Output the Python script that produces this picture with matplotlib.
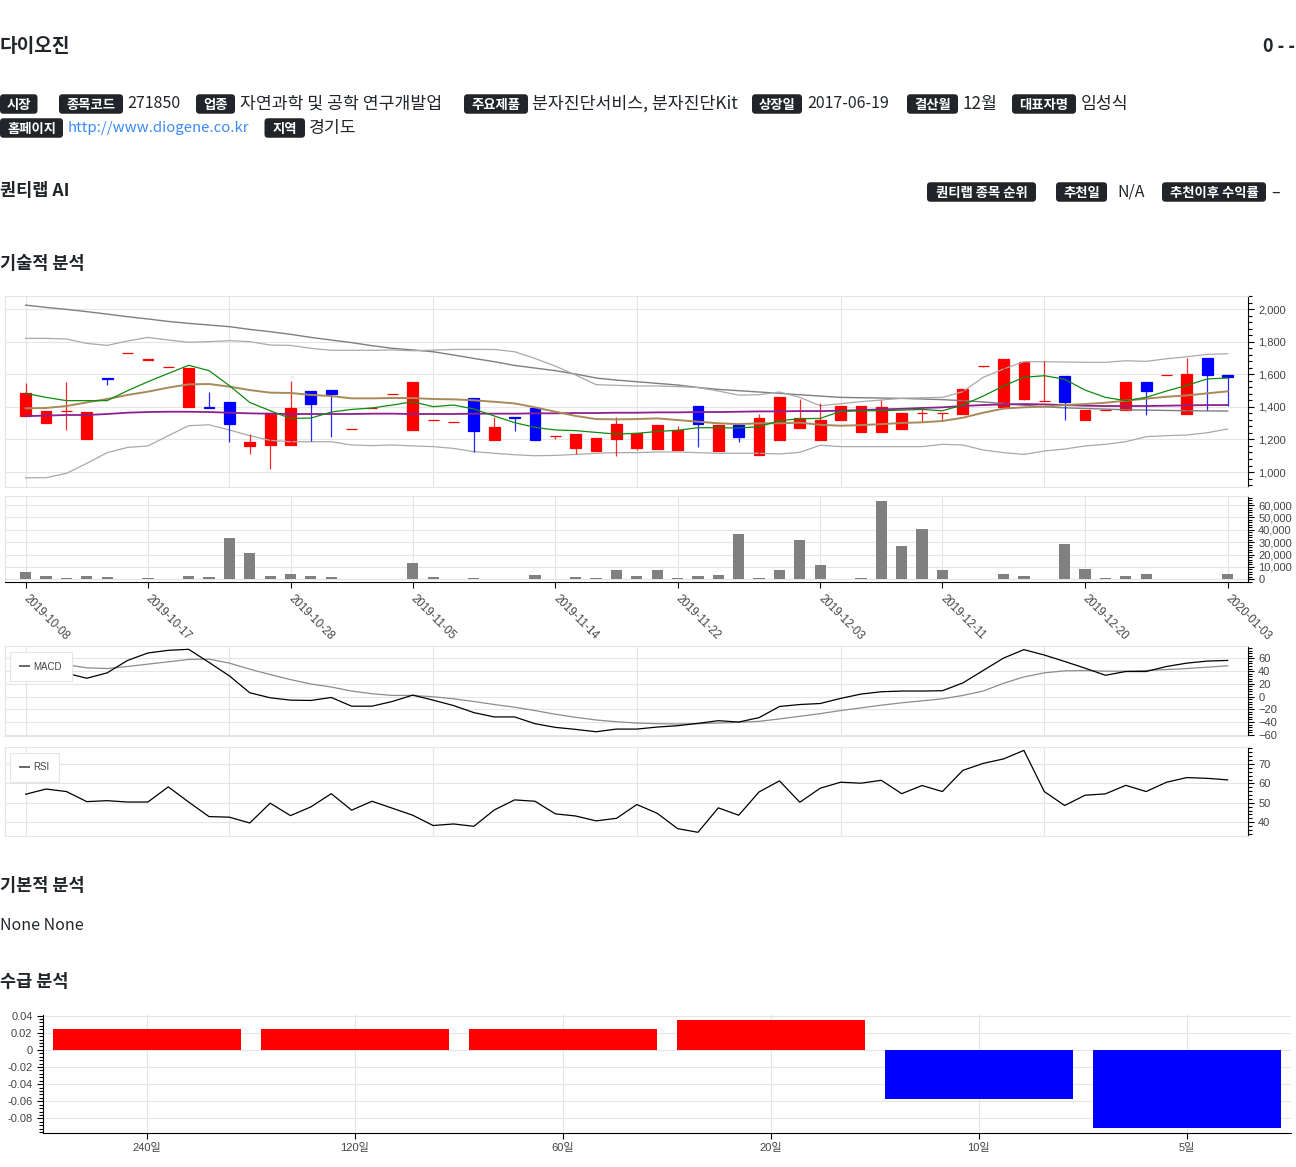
import numpy as np
import matplotlib
matplotlib.use("Agg")
import matplotlib.pyplot as plt
from matplotlib.patches import FancyBboxPatch
from matplotlib.lines import Line2D
from matplotlib.ticker import MultipleLocator, FuncFormatter

g_width=1296
g_height=1167
g_kor_font=["Noto Sans CJK KR","DejaVu Sans"]
g_grid_color="#e5e5e5"
g_tick_color="#444444"
g_text_color="#212529"

plt.rcParams["font.family"]=["Liberation Sans","Noto Sans CJK KR","DejaVu Sans"]

# ---- values ----
dates=["2019-10-08","2019-10-10","2019-10-11","2019-10-14","2019-10-15","2019-10-16","2019-10-17","2019-10-18",
       "2019-10-21","2019-10-22","2019-10-23","2019-10-24","2019-10-25","2019-10-28","2019-10-29","2019-10-30",
       "2019-10-31","2019-11-01","2019-11-04","2019-11-05","2019-11-06","2019-11-07","2019-11-08","2019-11-11",
       "2019-11-12","2019-11-13","2019-11-14","2019-11-15","2019-11-18","2019-11-19","2019-11-20","2019-11-21",
       "2019-11-22","2019-11-25","2019-11-26","2019-11-27","2019-11-28","2019-11-29","2019-12-02","2019-12-03",
       "2019-12-04","2019-12-05","2019-12-06","2019-12-09","2019-12-10","2019-12-11","2019-12-12","2019-12-13",
       "2019-12-16","2019-12-17","2019-12-18","2019-12-19","2019-12-20","2019-12-23","2019-12-24","2019-12-26",
       "2019-12-27","2019-12-30","2020-01-02","2020-01-03"]
date_ticks=["2019-10-08","2019-10-17","2019-10-28","2019-11-05","2019-11-14","2019-11-22",
            "2019-12-03","2019-12-11","2019-12-20","2020-01-03"]

open_p=[1343,1299,1376,1205,1578,1730,1688,1644,1401,1399,
        1431,1160,1168,1168,1497,1503,1262,1392,1481,1258,
        1321,1305,1452,1198,1337,1393,1221,1149,1131,1205,
        1149,1141,1133,1403,1129,1288,1106,1198,1270,1198,
        1317,1247,1247,1266,1360,1360,1354,1650,1401,1448,
        1436,1591,1317,1382,1382,1552,1597,1358,1701,1597]
high_p=[1544,1376,1550,1370,1578,1730,1694,1644,1638,1489,
        1431,1231,1360,1560,1497,1503,1262,1392,1481,1552,
        1321,1305,1452,1339,1337,1393,1221,1233,1209,1339,
        1237,1288,1282,1403,1288,1288,1356,1462,1450,1421,
        1403,1403,1442,1360,1391,1360,1511,1650,1693,1677,
        1683,1591,1382,1382,1552,1552,1597,1699,1701,1597]
low_p=[1343,1299,1258,1205,1534,1730,1688,1644,1401,1395,
       1186,1108,1016,1168,1190,1213,1262,1392,1481,1258,
       1321,1305,1125,1198,1251,1198,1200,1108,1131,1100,
       1135,1141,1133,1151,1129,1186,1106,1198,1270,1198,
       1317,1247,1247,1266,1309,1313,1354,1642,1401,1442,
       1436,1319,1317,1382,1382,1352,1597,1358,1382,1403]
close_p=[1483,1376,1376,1370,1572,1730,1694,1644,1638,1395,
         1294,1184,1360,1393,1419,1481,1262,1392,1481,1552,
         1321,1305,1250,1278,1329,1198,1221,1233,1209,1292,
         1237,1288,1256,1294,1288,1215,1329,1462,1333,1319,
         1403,1403,1397,1360,1360,1360,1511,1650,1693,1677,
         1436,1430,1382,1382,1552,1499,1597,1601,1593,1585]

ma5=[1483,1458,1438,1438,1438,1499,1554,1605,1655,1622,
     1530,1427,1376,1329,1331,1368,1384,1393,1411,1431,
     1401,1411,1387,1344,1303,1274,1258,1254,1243,1233,
     1237,1249,1256,1272,1272,1270,1278,1315,1327,1329,
     1372,1376,1376,1380,1384,1376,1411,1466,1528,1581,
     1591,1569,1503,1458,1438,1458,1497,1532,1571,1577]
ma20=[1391,1393,1405,1427,1448,1473,1493,1518,1538,1540,
      1524,1503,1487,1485,1473,1466,1452,1452,1454,1454,
      1448,1446,1440,1431,1421,1397,1370,1344,1325,1323,
      1325,1329,1319,1309,1299,1294,1299,1299,1303,1290,
      1284,1288,1294,1301,1305,1313,1333,1364,1389,1397,
      1401,1411,1417,1425,1438,1450,1462,1470,1483,1495]
ma60=[1343,1346,1350,1350,1356,1364,1368,1370,1370,1368,
      1364,1360,1358,1356,1356,1356,1356,1358,1358,1356,
      1356,1356,1358,1358,1358,1360,1360,1362,1362,1364,
      1364,1366,1366,1368,1368,1370,1372,1372,1374,1374,
      1376,1380,1384,1388,1393,1397,1405,1411,1415,1417,
      1415,1411,1407,1405,1405,1405,1407,1409,1411,1411]
ma_long=[2024,2010,1998,1984,1969,1953,1939,1924,1912,1902,
         1892,1875,1861,1845,1826,1810,1794,1775,1759,1749,
         1738,1718,1697,1677,1654,1638,1622,1601,1577,1564,
         1554,1544,1534,1519,1507,1499,1491,1483,1474,1466,
         1458,1456,1454,1452,1448,1444,1438,1430,1420,1410,
         1400,1394,1390,1386,1382,1380,1378,1376,1375,1374]
bb_upper=[1820,1820,1816,1789,1777,1804,1826,1810,1796,1800,
          1806,1800,1779,1777,1759,1747,1747,1747,1749,1744,
          1748,1752,1752,1752,1738,1697,1650,1595,1536,1532,
          1528,1528,1524,1518,1497,1472,1474,1491,1458,1407,
          1419,1432,1442,1452,1456,1458,1493,1581,1632,1677,
          1677,1675,1673,1673,1683,1679,1695,1707,1722,1726]
bb_lower=[965,965,992,1053,1119,1151,1160,1223,1284,1290,
          1258,1223,1194,1186,1186,1186,1166,1162,1166,1160,
          1156,1145,1125,1115,1106,1100,1102,1108,1115,1119,
          1119,1123,1123,1119,1115,1115,1115,1111,1121,1164,
          1156,1156,1156,1156,1156,1170,1166,1135,1119,1108,
          1129,1141,1160,1170,1186,1217,1223,1227,1241,1264]

volume=[5650,2420,1350,2960,1600,540,1350,540,2960,2150,
        33600,21500,2960,4300,2420,1880,540,540,540,12900,
        1880,540,1350,540,540,3770,540,2150,800,7530,
        2960,7530,1350,2420,3500,36600,1350,7530,31700,11300,
        540,1350,63500,27200,40900,7530,270,270,4300,2960,
        540,28800,8600,1080,2690,4040,540,540,540,4040]

macd=[52,44,36.7,28.8,37.3,56.8,68.5,72.7,74.3,53.7,
      32.5,6.0,-1.9,-5.6,-6.1,-1.4,-15.1,-15.1,-7.7,2.3,
      -5.6,-14.1,-25.2,-32.0,-32.0,-42.6,-48.4,-51.6,-55.3,-51.1,
      -51.1,-47.9,-45.8,-42.1,-37.9,-40.0,-33.1,-15.6,-12.5,-10.9,
      -2.9,3.9,7.6,8.7,8.7,9.2,21.4,41.0,60.5,73.8,
      65.3,55.2,44.7,33.5,39.4,39.4,47.3,52.6,55.8,56.8]
macd_signal=[53,51.5,50.0,45.2,44.1,47.3,51.0,54.7,58.4,58.9,
             52.6,43.1,34.6,26.7,19.8,15.0,8.7,4.5,1.8,1.8,
             -0.3,-3.5,-7.7,-12.5,-16.7,-22.0,-27.8,-32.6,-36.8,-39.5,
             -41.6,-42.6,-43.2,-42.6,-41.6,-40.5,-38.9,-35.2,-31.0,-26.8,
             -22.0,-17.8,-13.5,-9.8,-6.7,-3.5,1.8,8.7,20.9,30.9,
             37.3,40.4,41.0,39.9,39.9,41.0,42.5,44.1,46.2,48.4]
rsi=[54.4,57.1,55.8,50.6,51.1,50.4,50.4,58.2,50.4,42.9,
     42.6,39.6,49.8,43.4,47.9,54.7,46.2,50.8,47.2,43.6,
     38.3,39.1,37.9,46.3,51.5,50.8,44.3,43.2,40.7,42.0,
     49.1,44.6,36.7,34.8,47.4,43.6,55.6,61.3,50.3,57.5,
     60.6,60.1,61.6,54.7,58.9,55.8,66.7,70.3,72.6,77.0,
     55.8,48.6,53.9,54.6,59.0,55.8,60.6,63.0,62.6,61.8]

flow_labels=["240일","120일","60일","20일","10일","5일"]
flow_values=[0.0244,0.0244,0.0244,0.0349,-0.0578,-0.0915]

stock_name="다이오진"
info_badges=["시장","종목코드","업종","주요제품","상장일","결산월","대표자명","홈페이지","지역"]
info_values=["","271850","자연과학 및 공학 연구개발업","분자진단서비스, 분자진단Kit","2017-06-19","12월","임성식",
             "http://www.diogene.co.kr","경기도"]
ai_badges=["퀀티랩 종목 순위","추천일","추천이후 수익률"]
ai_values=["","N/A","\u2013"]


def px_axes(fig,x0,y0,x1,y1):
    #axes from a pixel box, origin top-left
    return fig.add_axes([x0/g_width,1-y1/g_height,(x1-x0)/g_width,(y1-y0)/g_height])


def badge(ax,x0,x1,yc,label):
    ax.add_patch(FancyBboxPatch((x0,yc-9.75),x1-x0,19.5,boxstyle="round,pad=0,rounding_size=3.5",
                                fc=g_text_color,ec="none"))
    ax.text((x0+x1)/2,yc+0.5,label,color="white",fontsize=9.6,fontweight="bold",ha="center",va="center",
            family=g_kor_font)


def has_hangul(txt):
    return any("\uac00"<=ch<="\ud7a3" for ch in txt)


def value_text(ax,x,yc,txt,color=g_text_color):
    #hangul in the reference font runs wider than Noto, so give it a bit more size
    size=12.4 if has_hangul(txt) else 11.5
    if txt.startswith("http"):
        size=10.8
    ax.text(x,yc,txt,color=color,fontsize=size,ha="left",va="center",family=g_kor_font)


def draw_header(fig):
    ax=fig.add_axes([0,0,1,1])
    ax.set_xlim(0,g_width)
    ax.set_ylim(g_height,0)
    ax.axis("off")
    ax.text(0,46,stock_name,fontsize=13.8,fontweight="bold",color=g_text_color,va="center",family=g_kor_font)
    ax.text(1295,47,"0 - -",fontsize=13,fontweight="bold",color=g_text_color,va="center",ha="right",
            family=g_kor_font)
    #info rows: badge box, then value
    boxes=[(0,37.5),(59,123),(196,235),(464,528),(752,802),(907,958),(1012,1076),(0,63),(264.5,305)]
    value_x=[None,127,240,532,807,963,1081,67.5,309]
    rows=[104]*7+[128]*2
    for lab,val,(x0,x1),vx,yc in zip(info_badges,info_values,boxes,value_x,rows):
        badge(ax,x0,x1,yc,lab)
        if val:
            col="#3d8af7" if val.startswith("http") else g_text_color
            value_text(ax,vx,yc,val,col)

    ax.text(0,191,"퀀티랩 AI",fontsize=12.6,fontweight="bold",color=g_text_color,va="center",family=g_kor_font)
    ai_boxes=[(927,1036),(1056,1107),(1162,1266)]
    ai_x=[None,1117,1271]
    for lab,val,(x0,x1),vx in zip(ai_badges,ai_values,ai_boxes,ai_x):
        badge(ax,x0,x1,192,lab)
        if val:
            value_text(ax,vx,192,val)

    for y,txt in [(264,"기술적 분석"),(886,"기본적 분석"),(982,"수급 분석")]:
        ax.text(0,y,txt,fontsize=12.6,fontweight="bold",color=g_text_color,va="center",family=g_kor_font)
    value_text(ax,0,925,"None None")


def style_panel(ax,ylim,major,minor,fmt):
    ax.set_xlim(-1,60)
    ax.set_ylim(*ylim)
    ax.yaxis.tick_right()
    ax.yaxis.set_major_locator(MultipleLocator(major))
    ax.yaxis.set_minor_locator(MultipleLocator(minor))
    ax.yaxis.set_major_formatter(FuncFormatter(fmt))
    ax.tick_params(axis="y",which="major",direction="out",length=4.3,width=0.8,color="black",
                   labelsize=8,labelcolor=g_tick_color,pad=3)
    ax.tick_params(axis="y",which="minor",direction="out",length=2.9,width=0.8,color="black")
    for s in ["left","top","bottom"]:
        ax.spines[s].set_color(g_grid_color)
        ax.spines[s].set_linewidth(0.8)
    ax.spines["right"].set_color("black")
    ax.spines["right"].set_linewidth(0.8)
    ax.grid(True,which="major",color=g_grid_color,linewidth=0.8)
    ax.set_axisbelow(True)
    ax.set_xticks(range(0,60,10))
    ax.tick_params(axis="x",length=0,labelbottom=False)


def comma_fmt(v,pos):
    return f"{int(round(v)):,}"


def minus_fmt(v,pos):
    return f"{int(round(v))}".replace("-","\u2212")


def flow_fmt(v,pos):
    return "0" if abs(v)<1e-9 else f"{v:.2f}"


def draw_price(ax):
    x=np.arange(len(open_p))
    o=np.array(open_p);c=np.array(close_p)
    colors=["#ff0000" if cc>=oo else "#0000ff" for oo,cc in zip(o,c)]
    style_panel(ax,(910,2080),200,40,comma_fmt)
    ax.plot(x,ma_long,color="#7f7f7f",linewidth=1.0)
    ax.plot(x,bb_upper,color="#a9a9a9",linewidth=0.9)
    ax.plot(x,bb_lower,color="#a9a9a9",linewidth=0.9)
    ax.vlines(x,low_p,high_p,colors=colors,linewidth=0.9,alpha=0.85)
    ax.bar(x,np.abs(c-o),bottom=np.minimum(o,c),width=0.53,color=colors,edgecolor=colors,linewidth=0.9)
    ax.plot(x,ma60,color="#8e1f8e",linewidth=1.3)
    ax.plot(x,ma20,color="#a88a5a",linewidth=1.4)
    ax.plot(x,ma5,color="#108a10",linewidth=0.9)


def draw_volume(ax):
    x=np.arange(len(volume))
    style_panel(ax,(-2400,67300),10000,2000,comma_fmt)
    ax.bar(x,volume,width=0.55,color="#808080")
    ax.spines["bottom"].set_color("black")
    tick_idx=[dates.index(d) for d in date_ticks]
    ax.set_xticks(tick_idx)
    ax.set_xticklabels(date_ticks,rotation=-45,ha="left",va="center",rotation_mode="anchor")
    ax.tick_params(axis="x",direction="out",length=4.3,width=0.8,color="black",labelbottom=True,
                   labelsize=8.3,labelcolor=g_tick_color,pad=6)


def panel_legend(ax,label):
    h=Line2D([],[],color="#666666",linewidth=1.4)
    leg=ax.legend([h],[label],loc="upper left",bbox_to_anchor=(0.004,0.935),borderaxespad=0,
                  fontsize=7,frameon=True,fancybox=False,edgecolor=g_grid_color,framealpha=1,
                  handlelength=0.9,handletextpad=0.5,borderpad=1.0,labelcolor=g_tick_color)
    leg.get_frame().set_linewidth(0.8)


def draw_macd(ax):
    x=np.arange(len(macd))
    style_panel(ax,(-61.5,79.5),20,4,minus_fmt)
    ax.plot(x,macd_signal,color="#8c8c8c",linewidth=0.9)
    ax.plot(x,macd,color="black",linewidth=0.9)
    panel_legend(ax,"MACD")


def draw_rsi(ax):
    x=np.arange(len(rsi))
    style_panel(ax,(32.9,78.9),10,2,minus_fmt)
    ax.plot(x,rsi,color="black",linewidth=0.9)
    panel_legend(ax,"RSI")


def draw_flow(ax):
    x=np.arange(len(flow_values))
    colors=["#ff0000" if v>=0 else "#0000ff" for v in flow_values]
    ax.bar(x,flow_values,width=0.905,color=colors)
    ax.set_xlim(-0.5,len(flow_values)-0.5)
    ax.set_ylim(-0.0974,0.0406)
    ax.set_xticks(x)
    ax.set_xticklabels(flow_labels)
    ax.yaxis.set_major_locator(MultipleLocator(0.02))
    ax.yaxis.set_minor_locator(MultipleLocator(0.004))
    ax.yaxis.set_major_formatter(FuncFormatter(flow_fmt))
    ax.tick_params(axis="both",which="major",direction="out",length=4.3,width=0.8,color="black",
                   labelsize=8,labelcolor=g_tick_color,pad=3)
    ax.tick_params(axis="y",which="minor",direction="out",length=2.9,width=0.8,color="black")
    for s in ["top","right"]:
        ax.spines[s].set_visible(False)
    for s in ["left","bottom"]:
        ax.spines[s].set_color("black")
        ax.spines[s].set_linewidth(0.8)
    ax.grid(True,which="major",color=g_grid_color,linewidth=0.8)
    ax.set_axisbelow(True)


fig=plt.figure(figsize=(g_width/100,g_height/100),dpi=100)
draw_header(fig)
draw_price(px_axes(fig,5.3,296,1248,486.7))
draw_volume(px_axes(fig,5.3,496,1248,582.3))
draw_macd(px_axes(fig,5.3,646,1248,735.7))
draw_rsi(px_axes(fig,5.3,746.7,1248,836))
draw_flow(px_axes(fig,42.7,1015,1290.7,1133.3))
fig.savefig("out.png",dpi=100)
